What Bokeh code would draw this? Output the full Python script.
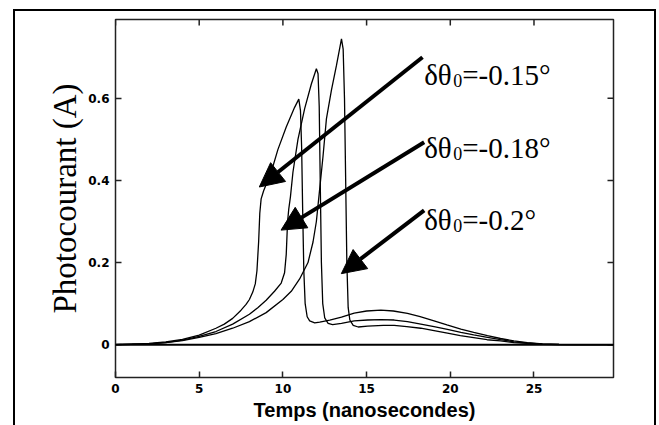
from bokeh.plotting import figure
from bokeh.models import (Range1d, FixedTicker, Span, Arrow, NormalHead, Title,
                          InlineStyleSheet)
from bokeh.core.properties import value
from bokeh.embed import file_html
from bokeh.resources import INLINE

# ---------------- data ----------------
t_a = [0, 1, 2, 3, 4, 5, 6, 6.5, 7, 7.5, 7.8, 8.0, 8.2, 8.35, 8.45, 8.55, 8.62, 8.7, 8.85,
       9.0, 9.3, 9.7, 10.2, 10.7, 10.95, 11.05, 11.12, 11.18, 11.25, 11.33, 11.45, 11.6,
       11.9, 12.2, 12.8, 13.5, 14.26, 15, 15.85, 16.6, 17.44, 18.2, 19.03, 19.8, 20.63,
       21.4, 22.22, 23.0, 23.8, 24.6, 25.5, 26.5, 27.5, 29.75]
i_a = [0, 0.001, 0.003, 0.007, 0.013, 0.023, 0.04, 0.05, 0.064, 0.084, 0.098, 0.11, 0.128,
       0.148, 0.18, 0.25, 0.32, 0.355, 0.375, 0.39, 0.42, 0.475, 0.53, 0.578, 0.598, 0.57,
       0.48, 0.33, 0.18, 0.1, 0.068, 0.058, 0.053, 0.055, 0.06, 0.067, 0.077, 0.082, 0.084,
       0.082, 0.076, 0.068, 0.058, 0.048, 0.038, 0.03, 0.022, 0.015, 0.009, 0.005, 0.002,
       0.0005, 0, 0]

t_b = [0, 1, 2, 3, 4, 5, 6, 7, 8, 8.5, 9, 9.5, 9.9, 10.1, 10.2, 10.28, 10.35, 10.45, 10.6,
       10.9, 11.3, 11.7, 12.0, 12.1, 12.17, 12.23, 12.3, 12.38, 12.5, 12.7, 12.97, 13.5,
       14.26, 15.06, 15.85, 16.65, 17.44, 18.24, 19.03, 19.83, 20.63, 21.4, 22.22, 23.0,
       23.8, 24.6, 25.5, 26.5, 27.5, 29.75]
i_b = [0, 0.001, 0.002, 0.005, 0.011, 0.02, 0.032, 0.05, 0.074, 0.09, 0.108, 0.13, 0.15,
       0.175, 0.22, 0.3, 0.33, 0.36, 0.42, 0.5, 0.575, 0.635, 0.672, 0.66, 0.58, 0.4, 0.2,
       0.1, 0.065, 0.052, 0.049, 0.052, 0.058, 0.06, 0.061, 0.06, 0.056, 0.05, 0.044, 0.037,
       0.03, 0.024, 0.018, 0.012, 0.007, 0.004, 0.0015, 0.0004, 0, 0]

t_c = [0, 1, 2, 3, 4, 5, 6, 7, 8, 9, 10, 10.5, 11, 11.5, 11.8, 12.0, 12.2, 12.4, 12.6,
       12.9, 13.2, 13.5, 13.6, 13.68, 13.75, 13.82, 13.9, 14.0, 14.2, 14.5, 15.06, 16.0,
       16.65, 17.4, 18.24, 19.03, 19.83, 20.6, 21.4, 22.2, 23.0, 23.8, 24.6, 25.5, 26.5,
       29.75]
i_c = [0, 0.001, 0.002, 0.005, 0.01, 0.018, 0.027, 0.04, 0.056, 0.078, 0.11, 0.13, 0.16,
       0.2, 0.25, 0.3, 0.38, 0.46, 0.55, 0.62, 0.68, 0.745, 0.72, 0.6, 0.4, 0.2, 0.09,
       0.06, 0.047, 0.043, 0.045, 0.047, 0.047, 0.044, 0.04, 0.034, 0.028, 0.022, 0.017,
       0.012, 0.009, 0.005, 0.003, 0.001, 0, 0]

x_ticks = [0, 5, 10, 15, 20, 25]
y_ticks = [0, 0.2, 0.4, 0.6]
y_tick_labels = ["0", "0.2", "0.4", "0.6"]

curve_labels = ["=-0.15°", "=-0.18°", "=-0.2°"]
label_x = [18.44, 18.44, 18.44]
label_y = [0.656, 0.478, 0.303]
arrow_x0 = [18.34, 18.44, 18.44]
arrow_y0 = [0.700, 0.493, 0.327]
arrow_x1 = [8.59, 9.89, 13.49]
arrow_y1 = [0.384, 0.279, 0.173]

x_title = "Temps (nanosecondes)"
y_title = "Photocourant (A)"

X_MIN, X_MAX = 0, 29.75
Y_MIN, Y_MAX = -0.08, 0.792

# ---------------- figure ----------------
W, H = 659, 425
B_LEFT, B_RIGHT, B_TOP, B_BOTTOM = 115, 46, 19, 48
FW, FH = W - B_LEFT - B_RIGHT, H - B_TOP - B_BOTTOM

frame_css = InlineStyleSheet(css="""
:host { position: relative; }
:host::after {
  content: ""; position: absolute; left: 13px; top: 9px; right: 3px; bottom: 0px;
  border-left: 2px solid #000; border-top: 2px solid #000; border-right: 2px solid #000;
  pointer-events: none;
}
""")

p = figure(width=W, height=H,
           x_range=Range1d(X_MIN, X_MAX), y_range=Range1d(Y_MIN, Y_MAX),
           output_backend="svg", toolbar_location=None,
           min_border_left=B_LEFT, min_border_right=B_RIGHT,
           min_border_top=B_TOP, min_border_bottom=B_BOTTOM,
           background_fill_color="white", border_fill_color="white")
p.stylesheets = [frame_css]
p.grid.visible = False
p.outline_line_color = "#222222"
p.outline_line_width = 1.5

tick_font = "DejaVu Sans"
for ax in p.xaxis:
    ax.ticker = FixedTicker(ticks=x_ticks)
for ax in p.yaxis:
    ax.ticker = FixedTicker(ticks=y_ticks)
    ax.major_label_overrides = {t: l for t, l in zip(y_ticks, y_tick_labels)}
for ax in p.xaxis + p.yaxis:
    ax.axis_line_color = None
    ax.major_tick_in = 6
    ax.major_tick_out = 0
    ax.minor_tick_line_color = None
    ax.major_tick_line_color = "#222222"
    ax.major_tick_line_width = 1.5
    ax.major_label_text_font = tick_font
    ax.major_label_text_font_style = "bold"
    ax.major_label_text_font_size = "12px"
    ax.major_label_text_color = "black"
    ax.major_label_standoff = 6

# ticks on the top and right edges of the frame (pointing inward, 6 px long)
dx = 6 * (X_MAX - X_MIN) / FW
dy = 6 * (Y_MAX - Y_MIN) / FH
p.segment(x0=x_ticks, y0=[Y_MAX] * len(x_ticks), x1=x_ticks, y1=[Y_MAX - dy] * len(x_ticks),
          line_color="#222222", line_width=1.5)
p.segment(x0=[X_MAX] * len(y_ticks), y0=y_ticks, x1=[X_MAX - dx] * len(y_ticks), y1=y_ticks,
          line_color="#222222", line_width=1.5)

# zero line
p.add_layout(Span(location=0, dimension="width", line_color="black", line_width=2))

# curves
for t, i in ((t_a, i_a), (t_b, i_b), (t_c, i_c)):
    p.line(t, i, line_color="black", line_width=1.3)

# arrows
for xs, ys, xe, ye in zip(arrow_x0, arrow_y0, arrow_x1, arrow_y1):
    p.add_layout(Arrow(end=NormalHead(size=24, fill_color="black", line_color="black"),
                       x_start=xs, y_start=ys, x_end=xe, y_end=ye,
                       line_width=4, line_color="black"))

# curve labels  δθ0=...
serif = value("Liberation Serif")
p.text(x=label_x, y=label_y, text=["δθ"] * 3, text_font=serif, text_font_size="29px",
       text_baseline="alphabetic", text_align="left", text_color="black")
p.text(x=label_x, y=label_y, text=["0"] * 3, text_font=serif, text_font_size="18px",
       text_baseline="alphabetic", text_align="left", text_color="black",
       x_offset=29, y_offset=5)
p.text(x=label_x, y=label_y, text=curve_labels, text_font=serif, text_font_size="29px",
       text_baseline="alphabetic", text_align="left", text_color="black", x_offset=38)

# axis titles
p.add_layout(Title(text=x_title, align="center", offset=-9, standoff=2,
                   text_font="Liberation Sans", text_font_style="bold",
                   text_font_size="20px", text_color="black"), "below")
p.add_layout(Title(text=y_title, align="center", offset=-24, standoff=6,
                   text_font="Liberation Serif", text_font_style="normal",
                   text_font_size="33px", text_color="black"), "left")

open("out.html", "w").write(file_html(p, INLINE))
